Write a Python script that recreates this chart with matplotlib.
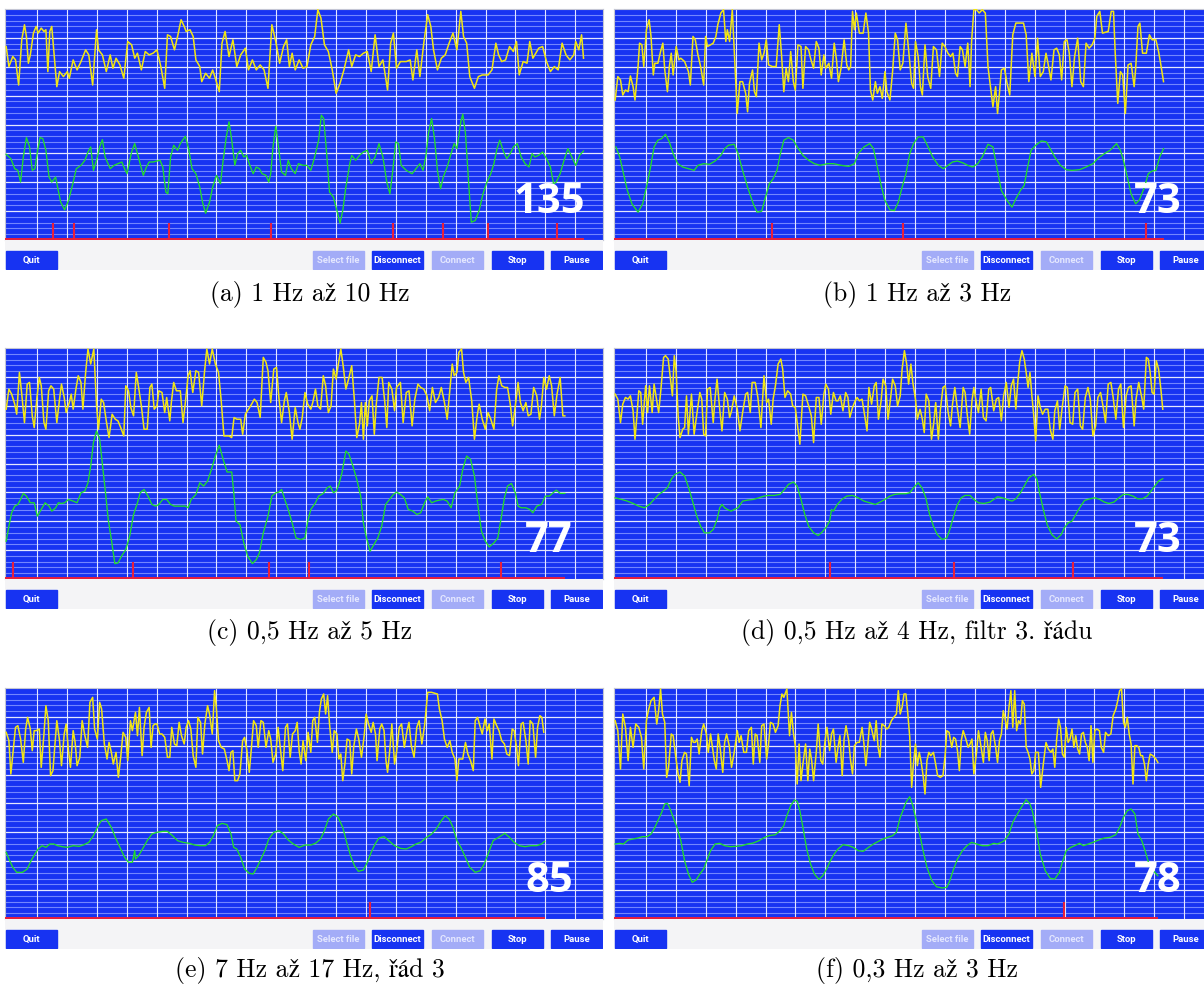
import numpy as np
import matplotlib.pyplot as plt
from matplotlib.patches import Rectangle

# Traces: (sample, screen level); the app draws
# its levels top-down, so the value axis is inverted.
yellow_a = [(18,140),(25,200),(35,170),(42,180),(50,255),(58,120),(65,75),(70,110),(75,190),(80,165),(88,100),(95,80),
            (100,100),(108,85),(115,95),(120,90),(125,215),(130,95),(135,80),(140,150),(148,260),(155,215),(165,230),
            (175,215),(180,235),(190,180),(200,210),(210,185),(222,150),(230,165),(240,255),(250,90),(255,150),(265,165),
            (275,215),(285,165),(292,205),(300,175),(310,195),(320,235),(330,125),(340,135),(348,175),(355,160),(365,210),
            (375,155),(385,165),(395,160),(405,150),(415,200),(425,265),(432,105),(440,110),(450,150),(458,110),(467,60),
            (475,80),(480,95),(490,90),(498,110),(505,180),(515,200),(520,245),(530,220),(540,235),(548,210),(555,235),
            (565,275),(572,130),(580,95),(590,170),(600,120),(610,200),(620,165),(632,145),(640,210),(650,180),(660,210),
            (670,195),(680,210),(690,265),(700,75),(710,125),(720,190),(730,140),(738,120),(745,200),(752,160),(760,210),
            (770,180),(780,205),(790,200),(800,135),(810,110),(818,30),(826,55),(835,135),(845,155),(855,210),(865,280),
            (875,250),(885,210),(897,150),(905,200),(915,165),(925,170),(935,160),(945,155),(955,215),(965,105),(975,200),
            (985,180),(997,270),(1005,130),(1012,100),(1020,205),(1030,185),(1045,185),(1055,180),(1062,240),(1072,150),
            (1080,230),(1090,130),(1100,45),(1108,80),(1115,150),(1125,210),(1135,175),(1145,165),(1155,130),(1165,100),
            (1175,150),(1185,35),(1192,110),(1200,130),(1208,230),(1220,265),(1230,230),(1240,225),(1255,225),(1265,210),
            (1275,130),(1282,165),(1290,185),(1300,180),(1310,140),(1320,155),(1328,125),(1335,225),(1345,185),(1355,190),
            (1362,125),(1370,175),(1385,145),(1395,140),(1405,185),(1415,215),(1425,200),(1435,210),(1445,130),(1455,165),
            (1465,180),(1475,165),(1480,125),(1488,150),(1495,105),(1500,175)]
green_a = [(18,462),(30,475),(40,505),(48,510),(55,545),(62,470),(70,412),(78,440),(85,510),(92,505),(98,455),(105,412),
           (112,415),(120,450),(128,530),(135,545),(145,530),(150,560),(158,605),(168,628),(178,600),(188,555),(198,505),
           (210,495),(220,480),(228,455),(235,440),(242,510),(250,480),(258,440),(265,418),(272,470),(285,505),(295,495),
           (305,490),(315,485),(320,500),(328,520),(340,455),(348,430),(355,460),(362,490),(370,525),(378,500),(385,485),
           (395,485),(405,482),(413,480),(420,500),(428,575),(433,580),(440,470),(448,435),(458,450),(465,430),(478,408),
           (487,450),(495,505),(505,520),(515,560),(522,605),(530,638),(540,605),(548,560),(558,525),(568,550),(575,480),
           (583,410),(590,365),(597,420),(605,495),(612,460),(620,450),(628,470),(635,465),(642,490),(652,520),(660,500),
           (668,505),(675,520),(685,525),(692,545),(697,520),(703,440),(710,378),(717,440),(725,515),(735,525),(742,480),
           (750,505),(760,520),(768,490),(780,495),(790,495),(800,510),(810,470),(820,420),(827,345),(833,355),(840,450),
           (848,575),(858,590),(868,635),(875,668),(882,630),(890,560),(900,490),(905,465),(915,480),(925,465),(935,455),
           (945,450),(955,490),(965,470),(975,430),(985,470),(995,545),(1003,580),(1010,515),(1018,425),(1025,430),
           (1032,495),(1045,510),(1060,520),(1070,505),(1080,490),(1088,510),(1095,470),(1102,400),(1110,355),(1118,420),
           (1125,510),(1133,565),(1140,530),(1150,500),(1160,460),(1168,430),(1175,445),(1185,365),(1190,342),(1197,400),
           (1205,545),(1212,665),(1222,660),(1232,630),(1242,580),(1252,545),(1262,520),(1270,490),(1278,445),(1285,420),
           (1295,455),(1303,475),(1312,460),(1320,440),(1330,430),(1340,470),(1350,490),(1360,500),(1368,460),(1375,470),
           (1385,465),(1395,455),(1405,475),(1415,500),(1423,550),(1430,545),(1440,520),(1450,480),(1460,445),(1470,470),
           (1480,495),(1490,465),(1500,452)]
beats_a = [137, 192, 436, 698, 1011, 1140, 1254, 1431]

yellow_b = [(28,300),(35,230),(42,240),(48,285),(55,270),(62,275),(68,228),(75,260),(80,300),(88,200),(92,130),(98,135),
            (103,200),(110,90),(117,60),(122,110),(128,225),(132,190),(140,190),(147,155),(153,130),(158,210),(165,275),
            (170,200),(175,160),(180,225),(188,140),(195,180),(200,175),(210,185),(220,215),(225,255),(232,110),(238,120),
            (245,165),(252,200),(260,255),(265,110),(270,140),(278,135),(285,130),(292,110),(297,75),(305,40),(312,30),
            (318,125),(322,90),(328,125),(335,30),(340,150),(348,340),(355,245),(362,245),(370,280),(375,335),(380,250),
            (388,210),(393,275),(398,290),(405,130),(412,180),(418,160),(424,120),(430,195),(440,200),(450,200),(458,75),
            (464,165),(470,275),(476,205),(482,245),(488,155),(495,245),(500,270),(507,135),(515,140),(520,265),(527,140),
            (535,150),(540,175),(548,205),(555,125),(562,145),(568,225),(575,165),(580,205),(588,190),(595,235),(602,130),
            (608,180),(613,245),(620,205),(628,120),(635,195),(640,210),(645,200),(650,35),(655,90),(660,40),(668,100),
            (678,100),(685,40),(692,100),(697,270),(703,300),(710,245),(715,280),(722,260),(728,295),(735,215),(740,275),
            (748,300),(755,215),(762,100),(768,120),(775,210),(782,190),(790,70),(797,150),(805,250),(810,265),(815,125),
            (822,170),(828,260),(833,285),(840,135),(847,230),(855,265),(862,140),(870,150),(878,230),(885,130),(892,140),
            (900,160),(907,170),(913,160),(920,220),(925,230),(932,140),(938,150),(945,200),(952,130),(958,260),(962,125),
            (968,30),(975,30),(982,40),(990,30),(998,40),(1005,200),(1012,265),(1018,320),(1025,260),(1030,340),(1035,280),
            (1040,210),(1048,205),(1055,250),(1062,285),(1070,105),(1078,70),(1088,70),(1098,70),(1105,105),(1112,245),
            (1120,160),(1128,230),(1135,115),(1142,230),(1150,215),(1157,160),(1163,195),(1170,240),(1178,150),(1185,145),
            (1192,165),(1198,240),(1205,125),(1212,120),(1218,160),(1225,260),(1232,170),(1240,115),(1248,245),(1255,260),
            (1262,130),(1270,145),(1278,135),(1285,115),(1290,50),(1298,35),(1305,100),(1320,95),(1328,35),(1334,35),
            (1338,150),(1345,310),(1352,215),(1358,225),(1365,340),(1372,195),(1380,190),(1388,260),(1392,205),(1398,80),
            (1403,70),(1410,160),(1420,160),(1428,105),(1435,120),(1445,120),(1452,155),(1458,195),(1465,245)]
green_b = [(30,440),(40,470),(50,520),(60,570),(72,610),(88,635),(100,610),(110,560),(120,505),(130,440),(140,420),
           (150,415),(160,402),(170,425),(180,460),(192,490),(205,500),(220,505),(235,510),(245,495),(260,490),(275,492),
           (290,482),(305,465),(315,445),(325,435),(340,432),(350,460),(362,510),(375,560),(390,610),(400,635),(412,632),
           (422,590),(432,550),(442,535),(452,510),(460,465),(470,420),(482,412),(495,420),(505,440),(520,465),(535,480),
           (550,490),(565,495),(585,490),(600,490),(620,495),(640,498),(655,490),(665,460),(680,440),(695,430),(705,445),
           (715,500),(725,555),(735,600),(748,628),(760,630),(770,605),(780,560),(790,520),(800,460),(810,430),(822,410),
           (835,410),(848,440),(860,470),(875,495),(888,505),(900,495),(912,485),(925,482),(940,488),(952,495),(965,500),
           (978,490),(990,470),(1005,432),(1018,440),(1028,500),(1040,570),(1055,600),(1068,620),(1078,595),(1090,570),
           (1100,555),(1108,505),(1118,450),(1130,435),(1145,422),(1158,425),(1168,445),(1180,470),(1195,495),(1210,508),
           (1225,510),(1245,508),(1262,500),(1280,490),(1295,472),(1310,460),(1325,450),(1342,430),(1352,450),(1360,480),
           (1370,530),(1380,580),(1392,610),(1402,598),(1415,560),(1425,520),(1435,512),(1445,510),(1455,470),(1465,445)]
beats_b = [438, 782, 1420]

yellow_c = [(18,210),(25,150),(32,165),(40,195),(45,225),(52,100),(58,165),(65,250),(72,135),(78,130),(85,230),(90,265),
            (97,175),(103,115),(108,140),(115,250),(120,270),(127,155),(133,140),(140,150),(148,250),(155,180),(160,135),
            (167,175),(172,220),(180,190),(185,165),(190,210),(197,150),(203,110),(210,130),(215,210),(222,100),(228,30),
            (235,75),(243,30),(250,200),(255,270),(262,180),(268,190),(275,245),(282,295),(290,225),(298,240),(305,245),
            (312,265),(320,290),(325,140),(332,155),(338,205),(345,230),(352,100),(358,145),(365,200),(372,270),(380,270),
            (387,145),(392,135),(398,210),(405,200),(410,155),(418,160),(425,220),(430,175),(438,245),(442,190),(448,130),
            (455,155),(465,155),(472,250),(478,190),(485,110),(490,95),(497,160),(505,95),(512,100),(520,200),(527,100),
            (533,30),(540,75),(547,30),(555,75),(563,100),(570,185),(577,290),(583,290),(590,290),(597,295),(603,235),
            (610,240),(620,240),(625,285),(632,225),(640,210),(648,195),(655,180),(662,190),(670,235),(678,55),(685,70),
            (690,95),(697,190),(705,90),(712,85),(718,175),(725,250),(732,185),(737,160),(745,220),(752,300),(760,205),
            (767,250),(772,270),(778,235),(785,160),(792,195),(800,210),(805,190),(812,150),(818,200),(825,210),(832,110),
            (838,140),(845,220),(852,200),(858,90),(865,120),(870,80),(877,30),(883,80),(890,150),(897,120),(905,80),
            (912,185),(918,295),(925,255),(930,190),(935,300),(940,190),(945,260),(950,185),(957,170),(963,285),(968,195),
            (975,115),(983,115),(990,190),(995,265),(1000,130),(1008,150),(1015,215),(1020,145),(1030,130),(1037,250),
            (1045,160),(1052,155),(1060,260),(1067,180),(1075,135),(1082,145),(1090,150),(1098,170),(1105,215),(1112,145),
            (1120,190),(1128,175),(1135,145),(1143,190),(1150,240),(1157,150),(1163,75),(1168,110),(1175,100),(1180,40),
            (1187,30),(1192,100),(1198,130),(1205,115),(1213,185),(1220,300),(1227,230),(1232,195),(1240,240),(1248,270),
            (1255,220),(1262,240),(1270,270),(1277,150),(1283,110),(1290,140),(1298,145),(1305,145),(1312,195),(1318,260),
            (1325,200),(1332,130),(1338,190),(1345,215),(1352,190),(1358,230),(1365,225),(1372,145),(1380,170),(1387,240),
            (1392,200),(1398,115),(1405,150),(1412,110),(1418,140),(1425,230),(1432,165),(1440,115),(1447,230),(1452,230)]
green_c = [(18,605),(25,560),(32,520),(40,500),(48,495),(55,480),(62,462),(70,470),(80,490),(90,490),(98,530),(108,510),
           (118,490),(128,500),(135,515),(145,505),(152,490),(160,492),(168,490),(178,480),(190,485),(200,490),(210,460),
           (220,455),(228,430),(235,380),(242,310),(250,275),(258,300),(265,375),(273,460),(280,540),(288,600),(297,672),
           (305,670),(315,648),(325,630),(335,590),(345,525),(355,490),(362,460),(372,450),(382,470),(392,495),(402,500),
           (410,495),(420,480),(430,480),(440,495),(450,500),(465,500),(478,500),(485,505),(493,480),(505,465),(515,430),
           (525,440),(535,425),(545,390),(555,350),(565,318),(575,360),(585,398),(597,398),(603,470),(608,545),(618,555),
           (628,610),(638,650),(650,672),(660,660),(668,640),(678,580),(690,530),(700,470),(710,460),(718,458),(725,450),
           (733,480),(742,510),(752,550),(762,595),(775,600),(785,595),(792,545),(800,510),(812,490),(820,470),(832,462),
           (842,445),(850,440),(858,460),(865,455),(872,435),(880,400),(890,335),(898,345),(908,380),(918,420),(928,470),
           (935,550),(942,590),(952,635),(962,615),(972,595),(982,560),(992,495),(1002,480),(1012,465),(1020,458),
           (1030,465),(1040,475),(1050,510),(1062,515),(1072,525),(1082,520),(1092,490),(1100,472),(1110,490),(1120,485),
           (1130,482),(1140,480),(1150,485),(1160,505),(1170,460),(1182,440),(1190,390),(1200,350),(1210,360),(1220,410),
           (1228,490),(1238,575),(1248,605),(1258,622),(1270,610),(1280,595),(1288,540),(1297,475),(1305,440),(1315,432),
           (1325,460),(1332,500),(1340,505),(1352,505),(1362,510),(1370,520),(1380,500),(1392,495),(1402,470),(1412,470),
           (1422,460),(1430,452),(1440,462),(1452,462)]
beats_c = [35, 343, 692, 795, 1288]

yellow_d = [(28,165),(35,180),(42,250),(48,195),(55,175),(62,180),(68,170),(75,215),(80,300),(85,230),(90,155),(95,160),
            (100,255),(108,140),(113,220),(118,140),(125,220),(130,135),(135,170),(142,220),(148,150),(155,55),(160,50),
            (167,60),(172,110),(178,170),(183,50),(188,100),(193,230),(198,295),(205,270),(210,265),(215,170),(220,285),
            (228,165),(235,285),(242,225),(250,160),(255,180),(260,285),(265,290),(270,150),(277,145),(285,250),(290,175),
            (295,120),(302,210),(308,275),(315,160),(322,180),(328,235),(333,215),(340,170),(348,210),(355,275),(362,220),
            (370,165),(375,160),(382,220),(387,130),(395,130),(402,175),(410,265),(418,110),(425,190),(430,180),(437,255),
            (442,180),(448,140),(455,75),(462,60),(467,90),(473,175),(480,155),(488,165),(493,200),(500,205),(505,250),
            (512,315),(520,165),(527,170),(535,200),(542,230),(548,310),(555,175),(562,175),(568,255),(575,165),(580,135),
            (587,150),(593,225),(600,160),(607,185),(612,185),(618,170),(625,215),(632,160),(638,175),(643,235),(650,205),
            (657,185),(662,175),(668,185),(675,180),(682,230),(688,275),(693,145),(700,195),(707,140),(712,130),(718,240),
            (725,185),(730,120),(737,140),(743,240),(750,175),(755,120),(762,140),(768,200),(775,170),(780,90),(786,35),
            (792,75),(797,135),(803,75),(808,130),(815,180),(820,240),(827,210),(833,240),(838,280),(843,165),(850,185),
            (857,300),(863,250),(868,190),(875,300),(880,215),(887,145),(893,140),(900,215),(907,260),(912,195),(918,145),
            (925,210),(932,265),(940,145),(945,160),(950,220),(957,285),(963,185),(968,145),(975,195),(980,220),(987,150),
            (993,235),(1000,245),(1007,150),(1012,145),(1020,215),(1027,180),(1033,175),(1040,245),(1046,170),(1053,130),
            (1060,205),(1066,140),(1072,120),(1078,210),(1083,130),(1088,70),(1094,35),(1100,60),(1105,100),(1110,145),
            (1115,100),(1120,170),(1125,230),(1130,305),(1136,170),(1142,205),(1148,225),(1155,210),(1162,210),(1168,270),
            (1175,300),(1180,215),(1187,185),(1193,270),(1200,200),(1207,140),(1213,145),(1220,250),(1227,255),(1233,160),
            (1240,150),(1247,260),(1253,270),(1260,175),(1267,145),(1273,180),(1280,290),(1287,260),(1293,175),(1300,160),
            (1307,205),(1313,250),(1320,135),(1327,130),(1333,175),(1340,240),(1347,150),(1353,135),(1360,265),(1367,170),
            (1373,145),(1380,140),(1388,260),(1393,180),(1400,130),(1408,175),(1413,210),(1420,55),(1425,60),(1430,100),
            (1435,160),(1440,165),(1446,65),(1452,90),(1458,150),(1463,210)]
green_d = [(28,475),(45,480),(60,485),(75,492),(90,500),(105,505),(118,495),(130,480),(142,465),(155,455),(165,445),
           (175,420),(185,405),(198,398),(210,410),(222,450),(232,490),(242,530),(252,560),(262,580),(275,580),(285,570),
           (295,540),(302,505),(308,495),(315,505),(322,510),(332,515),(340,510),(350,505),(362,485),(375,482),(390,480),
           (405,475),(418,470),(430,468),(445,468),(460,465),(472,450),(482,435),(495,428),(505,440),(515,480),(525,525),
           (535,560),(548,580),(560,588),(570,578),(580,565),(590,545),(595,510),(600,515),(610,495),(622,480),(635,470),
           (650,468),(665,475),(680,485),(695,490),(710,495),(722,488),(735,480),(748,470),(760,465),(775,463),(790,463),
           (800,460),(810,445),(822,430),(832,445),(842,475),(852,525),(862,560),(872,585),(885,600),(897,595),(905,570),
           (915,530),(925,495),(935,475),(945,468),(958,468),(968,480),(980,490),(995,492),(1010,488),(1020,480),
           (1030,472),(1042,475),(1055,480),(1068,485),(1078,478),(1090,460),(1100,440),(1112,415),(1125,405),(1133,420),
           (1140,460),(1150,510),(1160,555),(1172,585),(1185,598),(1197,585),(1205,565),(1215,550),(1225,545),(1235,525),
           (1245,505),(1258,483),(1272,478),(1285,475),(1298,480),(1310,488),(1322,492),(1335,488),(1348,475),(1360,465),
           (1372,465),(1385,470),(1397,478),(1410,478),(1422,470),(1432,455),(1442,440),(1452,425),(1463,418)]
beats_d = [592, 915, 1228]

yellow_e = [(18,155),(25,180),(30,280),(37,200),(42,140),(48,135),(55,175),(62,245),(68,145),(73,110),(80,145),(85,210),
            (90,150),(95,150),(103,145),(108,260),(115,160),(120,75),(126,120),(132,285),(138,270),(143,195),(148,120),
            (155,180),(160,255),(167,160),(172,130),(178,210),(183,260),(190,150),(195,185),(200,255),(207,230),(213,120),
            (220,165),(227,200),(233,65),(240,50),(245,145),(252,175),(258,65),(263,85),(270,190),(277,235),(282,185),
            (288,215),(293,250),(300,215),(306,290),(312,230),(318,155),(325,170),(330,240),(337,120),(342,150),(350,95),
            (355,165),(360,80),(367,225),(372,140),(378,95),(385,80),(390,200),(395,135),(400,130),(405,130),(412,160),
            (418,160),(425,170),(432,230),(438,230),(443,140),(450,190),(456,195),(462,125),(468,165),(475,190),(480,140),
            (486,120),(492,145),(498,225),(505,260),(510,110),(517,125),(522,220),(528,130),(535,75),(540,100),(547,160),
            (553,30),(558,90),(563,180),(570,200),(578,205),(585,240),(590,270),(595,215),(600,210),(605,300),(612,300),
            (618,280),(625,180),(630,170),(636,210),(642,275),(648,195),(653,120),(660,135),(665,200),(672,120),(678,125),
            (685,200),(692,150),(697,175),(703,245),(710,220),(716,140),(722,205),(728,270),(735,140),(740,130),(747,230),
            (753,160),(760,150),(765,125),(770,210),(775,250),(780,180),(787,240),(793,155),(800,215),(805,120),(810,110),
            (817,185),(822,95),(827,55),(833,40),(838,100),(843,45),(848,130),(855,215),(860,150),(867,160),(872,235),
            (877,220),(882,300),(888,245),(893,175),(900,180),(905,280),(910,200),(917,145),(923,175),(930,230),(937,165),
            (942,100),(948,130),(955,155),(960,125),(966,160),(970,240),(977,145),(982,130),(988,150),(993,240),(997,275),
            (1003,205),(1008,130),(1015,250),(1020,215),(1027,140),(1033,130),(1040,200),(1047,150),(1052,125),(1058,195),
            (1065,230),(1072,140),(1078,120),(1085,190),(1092,135),(1100,35),(1110,35),(1125,40),(1130,85),(1137,120),
            (1143,175),(1150,200),(1157,180),(1163,215),(1170,235),(1175,300),(1180,235),(1190,235),(1197,185),(1203,220),
            (1210,240),(1217,270),(1222,120),(1228,110),(1235,140),(1240,160),(1247,115),(1253,150),(1258,130),(1265,235),
            (1270,115),(1277,135),(1283,150),(1290,180),(1297,190),(1303,220),(1310,225),(1317,145),(1322,150),(1328,200),
            (1333,255),(1340,130),(1345,125),(1352,180),(1358,250),(1363,120),(1370,130),(1377,230),(1382,140),(1388,105),
            (1393,110),(1398,155)]
green_e = [(18,515),(25,535),(35,560),(45,575),(60,575),(72,565),(82,540),(92,520),(100,505),(110,495),(120,500),
           (130,490),(140,490),(150,495),(162,498),(175,500),(190,495),(205,497),(218,492),(230,485),(242,465),(252,440),
           (262,420),(275,415),(288,440),(300,475),(312,505),(322,530),(332,545),(342,545),(348,510),(350,535),(358,525),
           (368,505),(380,480),(392,460),(405,455),(420,452),(432,452),(445,465),(458,480),(472,485),(488,488),(502,493),
           (515,495),(530,495),(540,485),(550,465),(560,435),(572,428),(585,432),(595,460),(602,500),(610,505),(620,530),
           (630,565),(642,578),(652,580),(662,560),(672,535),(682,510),(692,475),(705,455),(718,450),(730,460),(742,478),
           (755,490),(770,500),(785,493),(800,493),(812,488),(825,475),(835,450),(845,415),(858,400),(870,410),(882,440),
           (892,485),(902,525),(912,555),(922,572),(935,568),(945,545),(955,515),(965,490),(975,472),(988,468),(1000,480),
           (1015,495),(1030,503),(1045,505),(1058,498),(1070,490),(1082,485),(1095,472),(1110,460),(1122,445),(1135,420),
           (1145,405),(1155,415),(1165,440),(1175,480),(1185,500),(1195,525),(1208,560),(1222,575),(1235,570),(1245,550),
           (1255,520),(1268,480),(1282,470),(1298,458),(1310,470),(1322,485),(1335,495),(1350,498),(1365,495),(1380,495),
           (1392,490),(1400,482)]
beats_e = [952]

yellow_f = [(28,120),(35,150),(42,265),(48,100),(55,140),(62,240),(68,140),(75,200),(82,130),(90,140),(97,170),(103,265),
            (110,120),(115,90),(122,60),(130,50),(137,130),(142,90),(147,25),(152,100),(158,125),(163,290),(168,260),
            (175,160),(180,165),(187,230),(193,280),(198,305),(203,240),(210,215),(215,220),(222,315),(228,170),(233,185),
            (238,185),(243,175),(248,220),(255,150),(260,130),(267,160),(272,215),(278,160),(283,200),(288,240),(293,265),
            (298,160),(303,200),(310,275),(315,185),(320,160),(327,195),(333,260),(340,215),(348,150),(353,185),(358,165),
            (365,215),(372,215),(378,150),(385,140),(390,250),(395,160),(400,165),(407,245),(412,135),(418,130),(425,235),
            (430,190),(435,125),(442,130),(448,155),(455,135),(460,75),(465,40),(470,50),(478,25),(485,165),(490,95),
            (495,155),(500,195),(505,310),(510,190),(515,300),(520,250),(527,190),(533,300),(538,205),(543,240),(548,300),
            (555,215),(560,130),(567,240),(572,250),(578,180),(583,140),(590,210),(595,160),(600,145),(607,245),(612,200),
            (617,165),(623,285),(628,175),(633,135),(640,180),(645,240),(650,280),(655,195),(662,185),(668,185),(675,140),
            (680,190),(685,255),(690,195),(695,125),(700,145),(707,180),(712,120),(717,200),(722,230),(727,130),(733,135),
            (740,145),(745,140),(752,120),(758,110),(765,100),(770,30),(775,100),(780,80),(785,40),(790,40),(795,100),
            (800,170),(805,320),(810,245),(815,190),(820,255),(825,215),(830,245),(835,285),(840,340),(845,240),(850,215),
            (855,225),(862,215),(867,245),(873,285),(880,290),(887,285),(893,220),(897,150),(903,155),(910,200),(915,170),
            (920,175),(925,210),(930,270),(935,180),(940,150),(947,175),(953,200),(958,190),(963,175),(968,280),(975,215),
            (980,150),(987,200),(993,245),(998,155),(1003,180),(1008,240),(1013,160),(1018,150),(1025,200),(1030,245),
            (1035,180),(1040,160),(1045,90),(1050,115),(1055,145),(1060,80),(1065,30),(1070,140),(1075,30),(1080,150),
            (1085,120),(1090,130),(1095,60),(1100,70),(1105,200),(1110,215),(1115,235),(1120,280),(1125,270),(1130,215),
            (1137,215),(1143,320),(1150,250),(1157,185),(1163,205),(1170,215),(1175,205),(1180,260),(1185,175),(1190,115),
            (1195,140),(1200,220),(1205,230),(1210,140),(1215,185),(1220,175),(1225,145),(1230,200),(1235,165),(1240,205),
            (1245,220),(1250,160),(1255,155),(1260,185),(1265,200),(1270,240),(1275,135),(1280,245),(1285,150),(1290,145),
            (1297,150),(1302,200),(1308,215),(1313,155),(1320,165),(1327,160),(1333,105),(1340,85),(1345,60),(1350,30),
            (1355,25),(1360,125),(1365,140),(1370,110),(1375,160),(1380,190),(1385,310),(1390,195),(1395,195),(1400,200),
            (1405,225),(1410,225),(1415,250),(1420,300),(1425,250),(1430,220),(1437,225),(1445,235),(1450,245)]
green_f = [(28,490),(40,488),(50,490),(62,478),(75,475),(88,472),(100,468),(112,468),(122,460),(130,445),(140,420),
           (150,395),(158,370),(165,368),(172,385),(180,410),(190,440),(200,480),(210,540),(220,580),(230,605),(240,598),
           (250,580),(260,565),(268,540),(278,510),(290,490),(302,488),(315,495),(330,498),(345,497),(360,495),(375,490),
           (390,487),(405,480),(420,470),(432,465),(448,462),(460,450),(470,435),(478,405),(488,375),(498,358),(505,362),
           (512,390),(520,440),(530,505),(540,550),(550,580),(562,596),(572,585),(582,565),(592,540),(602,520),(612,505),
           (625,492),(640,495),(652,500),(665,510),(678,512),(692,500),(705,490),(718,482),(730,475),(742,470),(755,465),
           (765,455),(775,410),(782,390),(790,365),(800,348),(808,375),(815,410),(825,455),(835,510),(845,560),(858,600),
           (870,618),(885,622),(897,620),(905,600),(915,565),(925,535),(938,510),(950,495),(962,485),(975,490),(990,495),
           (1005,495),(1020,488),(1030,490),(1040,485),(1048,480),(1060,460),(1070,425),(1082,400),(1095,375),(1105,357),
           (1115,370),(1122,395),(1132,450),(1142,520),(1155,570),(1168,593),(1180,595),(1192,575),(1200,545),(1210,510),
           (1222,500),(1232,495),(1245,488),(1255,495),(1268,490),(1280,485),(1295,478),(1310,472),(1325,470),(1340,462),
           (1350,440),(1360,410),(1370,390),(1380,385),(1390,400),(1398,460),(1408,480),(1418,515),(1428,555),(1438,570),
           (1450,585)]
beats_f = [1205]

heart_rate = ['135', '73', '77', '73', '85', '78']
captions = ['(a) 1 Hz až 10 Hz', '(b) 1 Hz až 3 Hz', '(c) 0,5 Hz až 5 Hz',
            '(d) 0,5 Hz až 4 Hz, filtr 3. řádu', '(e) 7 Hz až 17 Hz, řád 3', '(f) 0,3 Hz až 3 Hz']
buttons = ['Quit', 'Select file', 'Disconnect', 'Connect', 'Stop', 'Pause']
enabled = [True, False, True, False, True, True]

traces = [(yellow_a, green_a, beats_a), (yellow_b, green_b, beats_b), (yellow_c, green_c, beats_c),
          (yellow_d, green_d, beats_d), (yellow_e, green_e, beats_e), (yellow_f, green_f, beats_f)]

W, H = 1204, 985
BLUE = '#1733f2'

def rect(x, y, w, h):
    return [x / W, 1 - (y + h) / H, w / W, h / H]

fig = plt.figure(figsize=(W / 100, H / 100), dpi=100)
fig.patch.set_facecolor('white')

lefts = [5, 614]
tops = [9, 348, 688]
xspan = [(15, 1550), (25, 1592)]
yspan = [(718, 28), (718, 27), (715, 22)]
btn_x = [(1, 52), (308, 359), (367, 418), (427, 478), (487, 538), (546, 597)]

for i, (yel, grn, beats) in enumerate(traces):
    row, col = divmod(i, 2)
    px, py = lefts[col], tops[row]
    ax = fig.add_axes(rect(px, py, 598, 231))
    ax.set_facecolor(BLUE)
    x0, x1 = xspan[col]
    yb, yt = yspan[row]
    ax.set_xlim(x0, x1)
    ax.set_ylim(yb, yt)
    ax.set_xticks([])
    ax.set_yticks([])
    for s in ax.spines.values():
        s.set_color('#c4c6d4')
        s.set_linewidth(0.8)

    # grid: 40 fine rows, every 5th bright, 20 columns
    for k in range(1, 40):
        lv = yb + (yt - yb) * k / 40
        if k % 5 == 0:
            ax.axhline(lv, color='#e4e7ff', lw=0.9, zorder=1)
        else:
            ax.axhline(lv, color='#7286ff', lw=0.8, zorder=1)
    for k in range(19):
        ax.axvline(x0 + (x1 - x0) * (32 + 29.9 * k) / 598, color='#e4e7ff', lw=0.8, zorder=1)

    xs, ys = zip(*yel)
    ax.plot(xs, ys, color='#f2e614', lw=1.1, zorder=3)
    xs, ys = zip(*grn)
    ax.plot(xs, ys, color='#22dc2a', lw=0.95, zorder=3)

    base = yb - 3
    ax.plot([xs[0] - 8, xs[-1]], [base, base], color='#e8203c', lw=1.4, zorder=3, solid_capstyle='butt')
    ax.vlines(beats, base, yb - 50, color='#e8203c', lw=1.5, zorder=3)

    ax.text(544 / 598, 38 / 231, heart_rate[i], transform=ax.transAxes, ha='center', va='center',
            color='white', fontsize=30, fontweight='bold', family='Open Sans', zorder=5)

    # button strip under the plot
    bar = fig.add_axes(rect(px, py + 231, 598, 30))
    bar.set_xlim(0, 598)
    bar.set_ylim(30, 0)
    bar.axis('off')
    bar.add_patch(Rectangle((0, 0), 598, 30, color='#f4f4f6', zorder=0))
    for name, on, (bx0, bx1) in zip(buttons, enabled, btn_x):
        bar.add_patch(Rectangle((bx0, 11), bx1 - bx0, 18, color=BLUE if on else '#a3acf7', zorder=1))
        bar.text((bx0 + bx1) / 2, 20.5, name, ha='center', va='center', fontsize=6.8, fontweight='bold',
                 family='Roboto', color='white' if on else '#e4e7ff', zorder=2)

    cx = 310 if col == 0 else 917
    cy = [294, 632, 971][row]
    fig.text(cx / W, 1 - cy / H, captions[i], ha='center', va='center', fontsize=18.5,
             family=['cmr10', 'STIXGeneral', 'DejaVu Serif'])

fig.savefig('out.png', dpi=100)
